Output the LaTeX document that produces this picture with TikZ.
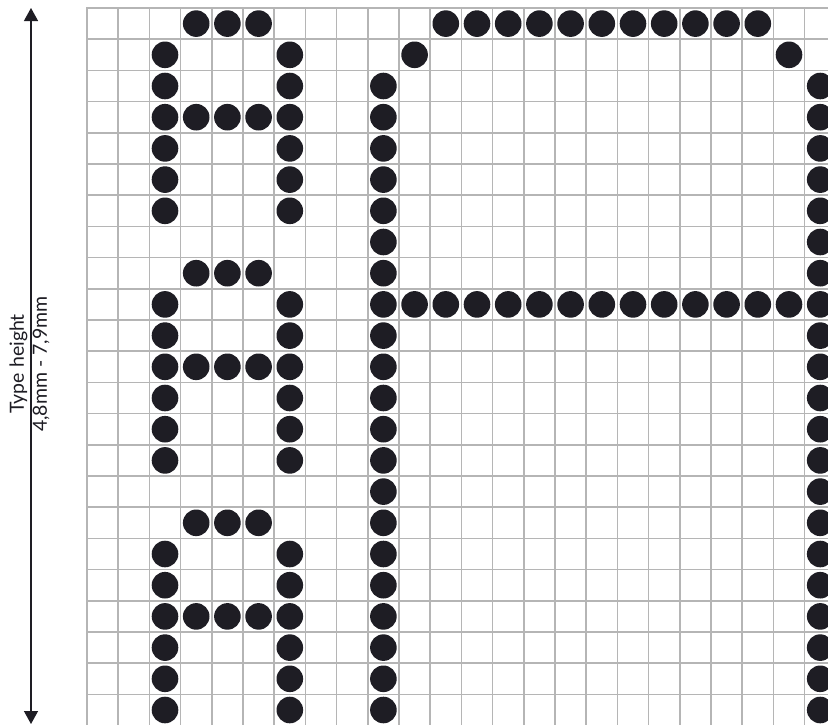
\documentclass[tikz,border=0pt]{standalone}
\usepackage{fontspec}
\setmainfont{Lato}
\usetikzlibrary{arrows.meta}
\definecolor{dotc}{HTML}{1E1D24}
\definecolor{gridc}{HTML}{B5B5B5}
\tikzset{
  gridline/.style={draw=gridc,line width=1.6pt},
  dotstyle/.style={fill=dotc},
  dimarrow/.style={draw=dotc,line width=1.3pt,{Triangle[length=13pt,width=14pt]}-{Triangle[length=13pt,width=14pt]}},
  labeltext/.style={rotate=90,align=center,font=\fontsize{19.5pt}{23pt}\selectfont,text=dotc,inner sep=0pt}
}
\newcommand\dotat[2]{\fill[dotstyle] ({87+31.2*(#1+0.5)},{8+31.2*(#2+0.5)}) circle[radius=13.3pt];}
\begin{document}
\begin{tikzpicture}[x=1pt,y=-1pt]
\useasboundingbox (0,0) rectangle (828,724);
\clip (0,0) rectangle (828,724);
\fill[white] (0,0) rectangle (828,724);
% grid
\foreach \k in {0,...,23} \draw[gridline] ({87+31.2*\k},7.2) -- ({87+31.2*\k},730);
\foreach \k in {0,...,22} \draw[gridline] (86.2,{8+31.2*\k}) -- (830,{8+31.2*\k});
% three small letters
\foreach \o in {0,8,16}{
  \foreach \c in {3,4,5} {\dotat{\c}{\o}}
  \foreach \r in {1,2,4,5,6} {\dotat{2}{\o+\r}\dotat{6}{\o+\r}}
  \foreach \c in {2,...,6} {\dotat{\c}{\o+3}}
}
% large letter
\foreach \c in {11,...,21} {\dotat{\c}{0}}
\dotat{10}{1}\dotat{22}{1}
\foreach \r in {2,...,22} {\dotat{9}{\r}\dotat{23}{\r}}
\foreach \c in {10,...,22} {\dotat{\c}{9}}
% dimension arrow
\coordinate (top) at (31,8);
\coordinate (bot) at (31,724);
\draw[dimarrow] (top) -- (bot);
\node[labeltext] (label) at (29.5,364) {Type height\\4,8mm - 7,9mm};
\end{tikzpicture}
\end{document}
